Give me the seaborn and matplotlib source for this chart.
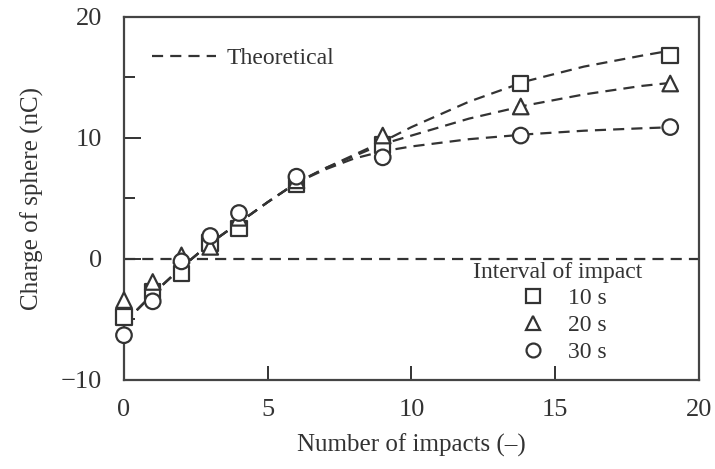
import matplotlib
matplotlib.use("Agg")
import matplotlib.pyplot as plt
from matplotlib.lines import Line2D
from matplotlib.ticker import MultipleLocator
import numpy as np
import pandas as pd
import seaborn as sns

# Measured charge of the sphere after each impact, per impact interval
impacts = [0, 1, 2, 3, 4, 6, 9, 13.8, 19]
charge_10s = [-4.8, -2.7, -1.2, 1.3, 2.5, 6.2, 9.4, 14.5, 16.8]
charge_20s = [-3.4, -1.9, 0.3, 1.0, 3.4, 6.5, 10.2, 12.6, 14.5]
charge_30s = [-6.3, -3.5, -0.2, 1.9, 3.8, 6.8, 8.4, 10.2, 10.9]

# Theoretical charge curves for each interval
theory_x = [0, 1, 2, 3, 4, 5, 6, 7, 8, 9, 10, 12, 14, 16, 18, 19.2]
theory_10s = [-5.3, -2.9, -0.7, 1.3, 3.0, 4.7, 6.3, 7.5, 8.6, 9.7, 10.9, 13.0, 14.7, 15.9, 16.8, 17.3]
theory_20s = [-5.3, -2.9, -0.7, 1.3, 3.0, 4.7, 6.3, 7.5, 8.5, 9.5, 10.2, 11.6, 12.7, 13.6, 14.3, 14.6]
theory_30s = [-5.3, -2.9, -0.7, 1.3, 3.0, 4.7, 6.3, 7.4, 8.3, 8.9, 9.3, 9.9, 10.3, 10.6, 10.8, 10.9]

intervals = ["10 s", "20 s", "30 s"]
markers = {"10 s": "s", "20 s": "^", "30 s": "o"}

sns.set_theme(style="ticks")
plt.rcParams["font.family"] = ["Liberation Serif", "DejaVu Serif"]

ink = "#333333"

meas = pd.DataFrame({
    "impacts": impacts * 3,
    "charge": charge_10s + charge_20s + charge_30s,
    "interval": sum([[k] * len(impacts) for k in intervals], []),
})
theory = pd.DataFrame({
    "impacts": theory_x * 3,
    "charge": theory_10s + theory_20s + theory_30s,
    "interval": sum([[k] * len(theory_x) for k in intervals], []),
})

fig = plt.figure(figsize=(7.15, 4.69), dpi=100)
ax = fig.add_axes([0.1734, 0.1898, 0.8042, 0.7740])

dash = (5.0, 3.2)
lw = 1.6
sns.lineplot(data=theory, x="impacts", y="charge", units="interval",
             estimator=None, color=ink, lw=lw, dashes=False, ax=ax,
             legend=False, zorder=2)
for ln in ax.get_lines():
    ln.set_dashes(dash)

ax.axhline(0, color=ink, lw=lw, dashes=dash, zorder=1)

sns.scatterplot(data=meas, x="impacts", y="charge", style="interval",
                markers=markers, s=125, facecolor="white", edgecolor=ink,
                linewidth=1.6, legend=False, ax=ax, zorder=3, clip_on=False)

ax.set_xlim(0, 20)
ax.set_ylim(-10, 20)
ax.xaxis.set_major_locator(MultipleLocator(5))
ax.yaxis.set_major_locator(MultipleLocator(10))
ax.yaxis.set_minor_locator(MultipleLocator(5))
ax.tick_params(axis="both", which="both", direction="in", color=ink,
               labelcolor=ink, labelsize=19, width=1.4)
ax.tick_params(axis="y", which="major", length=12, pad=16)
ax.tick_params(axis="y", which="minor", length=8)
ax.tick_params(axis="x", which="major", length=10, pad=14)
for sp in ax.spines.values():
    sp.set_visible(True)
    sp.set_color("#444444")
    sp.set_linewidth(1.6)

ax.set_xlabel("Number of impacts (\u2013)", fontsize=18, color=ink, labelpad=9)
ax.set_ylabel("Charge of sphere (nC)", fontsize=18, color=ink, labelpad=12)

theory_handle = [Line2D([], [], color=ink, lw=lw, dashes=dash)]
leg1 = ax.legend(theory_handle, ["Theoretical"], loc="upper left",
                 bbox_to_anchor=(0.012, 0.975), frameon=False, fontsize=17,
                 handlelength=2.7, handletextpad=0.45, labelcolor=ink)
ax.add_artist(leg1)

interval_handles = [Line2D([], [], ls="none", marker=markers[k], ms=10,
                           mfc="white", mec=ink, mew=1.6) for k in intervals]
leg2 = ax.legend(interval_handles, intervals, title="Interval of impact",
                 loc="lower right", bbox_to_anchor=(0.935, -0.005),
                 frameon=False, fontsize=17, title_fontsize=17,
                 handletextpad=0.5, labelspacing=0.22, borderpad=0.3,
                 labelcolor=ink)
leg2.get_title().set_color(ink)

fig.savefig("out.png", dpi=100)
